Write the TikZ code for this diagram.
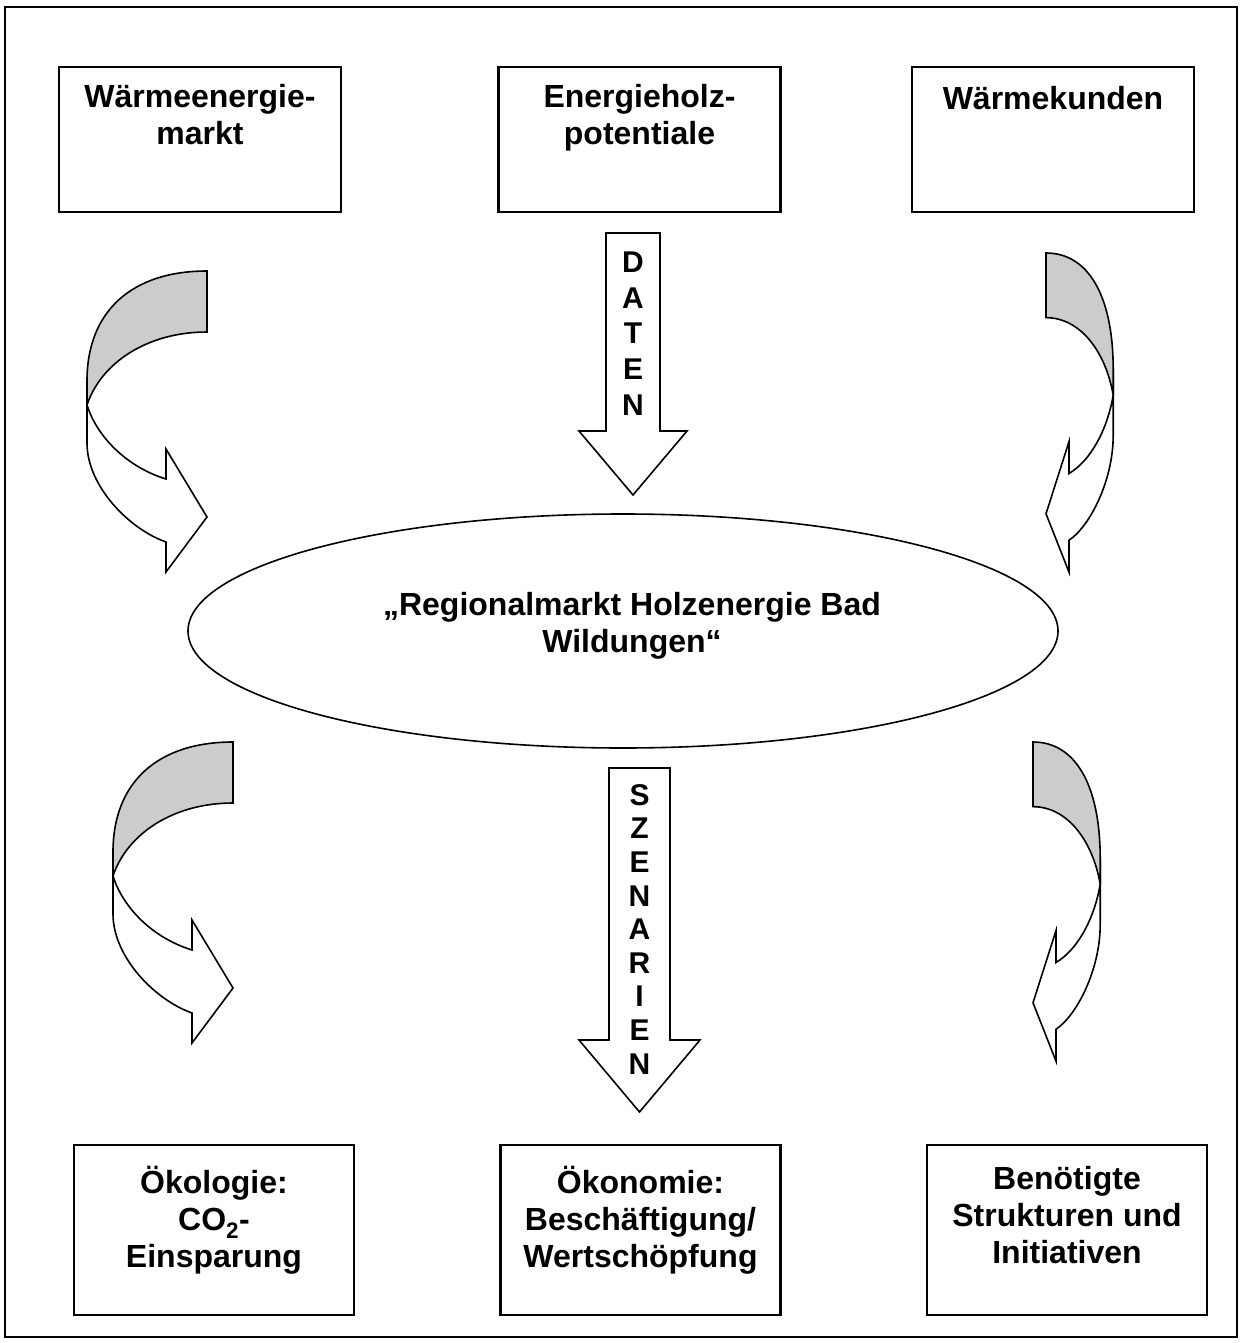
\documentclass[tikz,border=0pt]{standalone}
\usepackage{fontspec}
\setmainfont{Liberation Sans}
\usetikzlibrary{positioning,shapes.geometric}
\tikzset{>=latex}

\tikzset{
    kasten/.style={draw, line width=2.2pt, minimum width=282pt, minimum height=145pt, inner sep=0pt},
    kastenunten/.style={kasten, minimum width=280pt, minimum height=170pt},
    kastentext/.style={align=center, inner sep=0pt, font=\fontsize{32}{37}\selectfont\bfseries,
        execute at begin node={\rule{0pt}{32pt}}},
    buchstabe/.style={inner sep=0pt, font=\fontsize{30}{34}\selectfont\bfseries},
    pfeil/.style={draw, line width=1.6pt, line join=miter, fill=white},
}

\begin{document}
\begin{tikzpicture}[x=1pt, y=-1pt]

    \useasboundingbox (0,0) rectangle (1242,1343);
    \draw [line width=2pt] (5,7.5) rectangle (1237,1337);

    % obere Reihe
    \node[kasten] (waermemarkt) at (200,139.5) {};
    \node[kasten] (potentiale) at (639.5,139.5) {};
    \node[kasten] (kunden) at (1053,139.5) {};
    \node[kastentext, below=18.5pt of waermemarkt.north] (waermemarkttext) {Wärmeenergie-\\markt};
    \node[kastentext, below=18.5pt of potentiale.north] (potentialetext) {Energieholz-\\potentiale};
    \node[kastentext, below=11.5pt of kunden.north] (kundentext) {Wärmekunden};

    % Mitte
    \node[draw, ellipse, line width=1.6pt, minimum width=870pt, minimum height=234pt, inner sep=0pt] (region) at (623,631) {};
    \node[kastentext, execute at begin node={}] (regiontext) at (632,626) {„Regionalmarkt Holzenergie Bad\\Wildungen“};

    % untere Reihe
    \node[kastenunten] (oekologie) at (214,1230) {};
    \node[kastenunten] (oekonomie) at (640.5,1230) {};
    \node[kastenunten] (strukturen) at (1067,1230) {};
    \node[kastentext, below=22.5pt of oekologie.north] (oekologietext) {Ökologie:\\CO\textsubscript{2}-\\Einsparung};
    \node[kastentext, below=22.5pt of oekonomie.north] (oekonomietext) {Ökonomie:\\Beschäftigung/\\Wertschöpfung};
    \node[kastentext, below=22.5pt of strukturen.north] (strukturentext) {Benötigte\\Strukturen und\\Initiativen};

    % Blockpfeile
    \draw[pfeil] (606,233) -- (660,233) -- (660,431) -- (687,431) -- (633,495) -- (579,431) -- (606,431) -- cycle;
    \draw[pfeil] (609,768) -- (670,768) -- (670,1040) -- (700,1040) -- (639.5,1112) -- (579,1040) -- (609,1040) -- cycle;

    \foreach \l [count=\i] in {D,A,T,E,N}
        \node[buchstabe] (daten\i) at (633,{262+35.8*(\i-1)}) {\l};
    \foreach \l [count=\i] in {S,Z,E,N,A,R,I,E,N}
        \node[buchstabe] (szenarien\i) at (639.5,{795+33.6*(\i-1)}) {\l};

    % gebogene Pfeile
    \foreach \px/\py/\sx/\sy in {207/271/1/1, 233/742/1/1, 1046/253/-0.56/1.06, 1033/742/-0.56/1.06}
    {
        \begin{scope}[shift={(\px,\py)}, xscale=\sx, yscale=\sy]
            \draw[pfeil] (-120,110) -- (-120,172) .. controls (-120,215) and (-78,258) .. (-41,271)
                -- (-41,301) -- (0,246) -- (-41,178) -- (-41,208)
                .. controls (-80,196) and (-110,166) .. (-120,134) -- cycle;
            \draw[pfeil, fill=gray!40] (0,0) .. controls (-75,0) and (-120,40) .. (-120,110)
                -- (-120,134) .. controls (-106,92) and (-60,61) .. (0,61) -- cycle;
        \end{scope}
    }

\end{tikzpicture}
\end{document}
